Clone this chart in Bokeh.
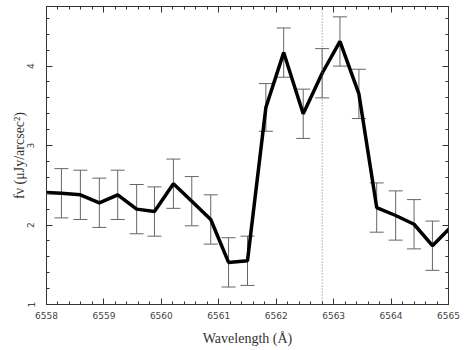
from bokeh.plotting import figure
from bokeh.models import (ColumnDataSource, Whisker, TeeHead, Span, LinearAxis,
                          SingleIntervalTicker, BasicTickFormatter, Range1d,
                          CustomJSTickFormatter)
from bokeh.embed import file_html
from bokeh.resources import INLINE

# ---- data ----
wavelength = [6557.93, 6558.26, 6558.59, 6558.92, 6559.24, 6559.57, 6559.88,
              6560.21, 6560.53, 6560.86, 6561.17, 6561.50, 6561.82, 6562.13,
              6562.47, 6562.80, 6563.11, 6563.44, 6563.75, 6564.08, 6564.40,
              6564.72, 6565.05]
flux = [2.41, 2.40, 2.38, 2.28, 2.38, 2.20, 2.17,
        2.52, 2.30, 2.07, 1.53, 1.55, 3.48, 4.17,
        3.40, 3.91, 4.31, 3.65, 2.22, 2.12, 2.01,
        1.74, 1.98]
# error bars exist for the points inside the plotted window
err = [0.31, 0.31, 0.31, 0.31, 0.31, 0.31,
       0.31, 0.31, 0.31, 0.31, 0.31, 0.30, 0.31,
       0.31, 0.31, 0.31, 0.31, 0.31, 0.31, 0.31,
       0.31]
line_center = 6562.80
x_start, x_end = 6558, 6565
y_start, y_end = 1, 4.75
x_label = "Wavelength (Å)"
y_label = "fν (μJy/arcsec²)"

err_x = wavelength[1:-1]
err_y = flux[1:-1]
line_src = ColumnDataSource(dict(x=wavelength, y=flux))
err_src = ColumnDataSource(dict(
    x=err_x,
    lower=[f - e for f, e in zip(err_y, err)],
    upper=[f + e for f, e in zip(err_y, err)],
))

AX = "#333333"

p = figure(width=464, height=350, output_backend="svg", toolbar_location=None,
           x_range=Range1d(x_start, x_end), y_range=Range1d(y_start, y_end),
           x_axis_type=None, y_axis_type=None,
           min_border_left=46, min_border_right=16, min_border_top=6,
           min_border_bottom=46)
p.background_fill_color = "white"
p.border_fill_color = "white"
p.outline_line_color = AX
p.outline_line_width = 1


def style(ax, show_labels):
    ax.ticker = SingleIntervalTicker(interval=1, num_minor_ticks=5)
    ax.major_tick_in = 6
    ax.major_tick_out = 0
    ax.minor_tick_in = 3
    ax.minor_tick_out = 0
    ax.axis_line_color = AX
    ax.major_tick_line_color = AX
    ax.minor_tick_line_color = AX
    ax.major_label_text_font = "DejaVu Sans"
    ax.major_label_text_font_size = "9px"
    ax.major_label_text_color = "#444444"
    if show_labels:
        ax.formatter = BasicTickFormatter(use_scientific=False)
    else:
        ax.formatter = CustomJSTickFormatter(code="return ''")
        ax.major_label_standoff = 0


xb = LinearAxis()
style(xb, True)
xb.major_label_standoff = 7
xb.axis_label = x_label
xb.axis_label_text_font = "Liberation Serif"
xb.axis_label_text_font_size = "14px"
xb.axis_label_text_font_style = "normal"
xb.axis_label_text_color = AX
xb.axis_label_standoff = 9
p.add_layout(xb, "below")

yl = LinearAxis()
style(yl, True)
yl.major_label_orientation = "vertical"
yl.major_label_standoff = 12
yl.axis_label = y_label
yl.axis_label_text_font = "Liberation Serif"
yl.axis_label_text_font_size = "14px"
yl.axis_label_text_font_style = "normal"
yl.axis_label_text_color = AX
yl.axis_label_standoff = -2
p.add_layout(yl, "left")

xt = LinearAxis()
style(xt, False)
p.add_layout(xt, "above")

yr = LinearAxis()
style(yr, False)
p.add_layout(yr, "right")

# rest-wavelength marker
p.add_layout(Span(location=line_center, dimension="height", line_color="#777777",
                  line_width=1, line_dash="1 2"))

# error bars
p.add_layout(Whisker(source=err_src, base="x", upper="upper", lower="lower",
                     line_color="#666666", line_width=1,
                     upper_head=TeeHead(size=14, line_color="#666666", line_width=1),
                     lower_head=TeeHead(size=14, line_color="#666666", line_width=1)))

# spectrum
p.line("x", "y", source=line_src, line_color="black", line_width=3.5)

open("out.html", "w").write(file_html(p, INLINE))
